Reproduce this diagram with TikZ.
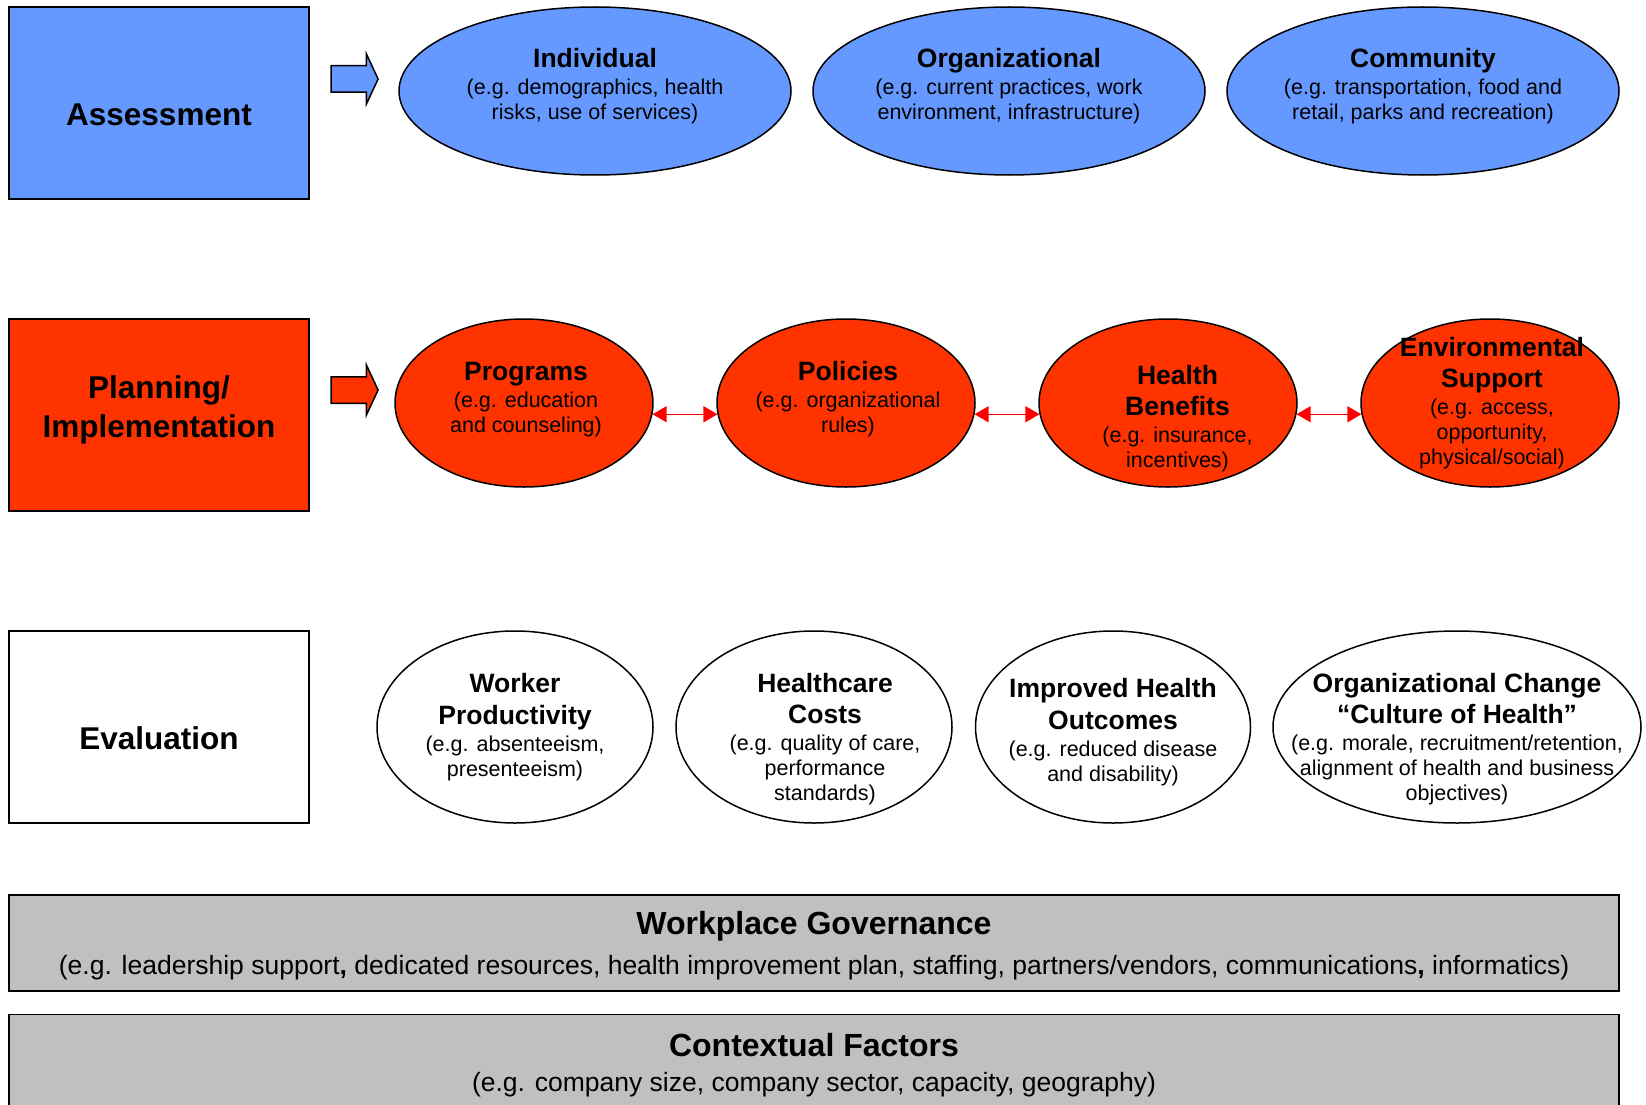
\documentclass[tikz,border=0pt]{standalone}
\usepackage{fontspec}
\setmainfont{Liberation Sans}
\usepackage{xcolor}
\definecolor{Col1}{RGB}{102,153,255}
\definecolor{Col2}{RGB}{255,51,0}
\definecolor{Col3}{RGB}{192,192,192}
\usepackage{tikz}
\usetikzlibrary{shapes.geometric}
\usetikzlibrary{shapes.arrows}
\usetikzlibrary{arrows.meta}
\tikzstyle{Stage}=[rectangle,draw=black,line width=1.5pt,minimum width=300pt,
minimum height=192pt,inner sep=0pt]
\tikzstyle{StageTxt}=[align=center,inner sep=0pt,
font=\fontsize{31.5}{39}\selectfont\bfseries]
\tikzstyle{Oval}=[ellipse,draw=black,line width=1.5pt,inner sep=0pt]
\tikzstyle{Txt}=[align=center,inner sep=0pt,font=\fontsize{21.5}{25}\selectfont]
\tikzstyle{BlockArrow}=[single arrow,draw=black,line width=1.5pt,inner xsep=0pt,
inner ysep=12.5pt,single arrow head extend=12pt,single arrow tip angle=130,
minimum height=47pt]
\tikzstyle{Link}=[draw=red,line width=1.5pt,
{Triangle[length=14pt,width=16pt]}-{Triangle[length=14pt,width=16pt]}]
\tikzstyle{Band}=[rectangle,draw=black,fill=Col3,line width=1.5pt,
minimum width=1610pt,inner sep=0pt]
\tikzstyle{BandTxt}=[align=center,inner sep=0pt,font=\fontsize{26.5}{40}\selectfont]
\newcommand{\Ttl}[1]{{\fontsize{26.5}{31.5}\selectfont\bfseries #1}}
\newcommand{\BandTtl}[1]{{\fontsize{32}{36}\selectfont\bfseries #1}}

\begin{document}
\begin{tikzpicture}[x=1pt,y=1pt]
            \useasboundingbox(0,0)rectangle(1646,-1105);
            \node[Stage,fill=Col1](assess)at(159,-103){};
            \node[Stage,fill=Col2](plan)at(159,-415){};
            \node[Stage,fill=white](eval)at(159,-727){};
            \node[StageTxt](assessT)at(159,-114.5){Assessment};
            \node[StageTxt](planT)at(159,-409.7){Planning/\\Implementation};
            \node[StageTxt](evalT)at(159,-738.5){Evaluation};
            \node[BlockArrow,fill=Col1](arr1)at(351.5,-79){};
            \node[BlockArrow,fill=Col2](arr2)at(351.5,-390){};
            %
            \node[Oval,fill=Col1,minimum width=392pt,minimum height=168pt]
                (indiv)at(595,-91){};
            \node[Oval,fill=Col1,minimum width=392pt,minimum height=168pt]
                (orga)at(1009,-91){};
            \node[Oval,fill=Col1,minimum width=392pt,minimum height=168pt]
                (commu)at(1423,-91){};
            \node[Txt](indivT)at(595,-85.7)
                {\Ttl{Individual}\\[2pt](e.g. demographics, health\\risks, use of services)};
            \node[Txt](orgaT)at(1009,-85.7)
                {\Ttl{Organizational}\\[2pt](e.g. current practices, work\\environment, infrastructure)};
            \node[Txt](commuT)at(1423,-85.7)
                {\Ttl{Community}\\[2pt](e.g. transportation, food and\\retail, parks and recreation)};
            %
            \node[Oval,fill=Col2,minimum width=258pt,minimum height=168pt]
                (prog)at(524,-403){};
            \node[Oval,fill=Col2,minimum width=258pt,minimum height=168pt]
                (pol)at(846,-403){};
            \node[Oval,fill=Col2,minimum width=258pt,minimum height=168pt]
                (benef)at(1168,-403){};
            \node[Oval,fill=Col2,minimum width=258pt,minimum height=168pt]
                (envir)at(1490,-403){};
            \node[Txt](progT)at(526,-399.7)
                {\Ttl{Programs}\\[2pt](e.g. education\\and counseling)};
            \node[Txt](polT)at(848,-399)
                {\Ttl{Policies}\\[2pt](e.g. organizational\\rules)};
            \node[Txt](benefT)at(1177.5,-418.5)
                {\Ttl{Health}\\[6.5pt]\Ttl{Benefits}\\[2pt](e.g. insurance,\\incentives)};
            \node[Txt](envirT)at(1492,-403)
                {\Ttl{Environmental}\\[6.5pt]\Ttl{Support}\\[2pt](e.g. access,\\opportunity,\\physical/social)};
            \draw[Link](prog.-5)--(pol.185);
            \draw[Link](pol.-5)--(benef.185);
            \draw[Link](benef.-5)--(envir.185);
            %
            \node[Oval,fill=white,minimum width=276pt,minimum height=192pt]
                (prod)at(515,-727){};
            \node[Oval,fill=white,minimum width=276pt,minimum height=192pt]
                (costs)at(814,-727){};
            \node[Oval,fill=white,minimum width=275pt,minimum height=192pt]
                (outc)at(1113,-727){};
            \node[Oval,fill=white,minimum width=368pt,minimum height=192pt]
                (cult)at(1457,-727){};
            \node[Txt](prodT)at(515,-727)
                {\Ttl{Worker}\\[6.5pt]\Ttl{Productivity}\\[2pt](e.g. absenteeism,\\presenteeism)};
            \node[Txt](costsT)at(825,-739)
                {\Ttl{Healthcare}\\[6.5pt]\Ttl{Costs}\\[2pt](e.g. quality of care,\\performance\\standards)};
            \node[Txt](outcT)at(1113,-732)
                {\Ttl{Improved Health}\\[6.5pt]\Ttl{Outcomes}\\[2pt](e.g. reduced disease\\and disability)};
            \node[Txt](cultT)at(1457,-739)
                {\Ttl{Organizational Change}\\[6.5pt]\Ttl{“Culture of Health”}\\[2pt](e.g. morale, recruitment/retention,\\alignment of health and business\\objectives)};
            %
            \node[Band,minimum height=96pt](gov)at(814,-943){};
            \node[Band,minimum height=95pt](ctx)at(814,-1062){};
            \node[BandTxt](govT)at(814,-946)
                {\BandTtl{Workplace Governance}\\(e.g. leadership support\textbf{,} dedicated resources, health improvement plan, staffing, partners/vendors, communications\textbf{,} informatics)};
            \node[BandTxt,font=\fontsize{26.5}{35}\selectfont](ctxT)at(814,-1065)
                {\BandTtl{Contextual Factors}\\(e.g. company size, company sector, capacity, geography)};
        \end{tikzpicture}
\end{document}
